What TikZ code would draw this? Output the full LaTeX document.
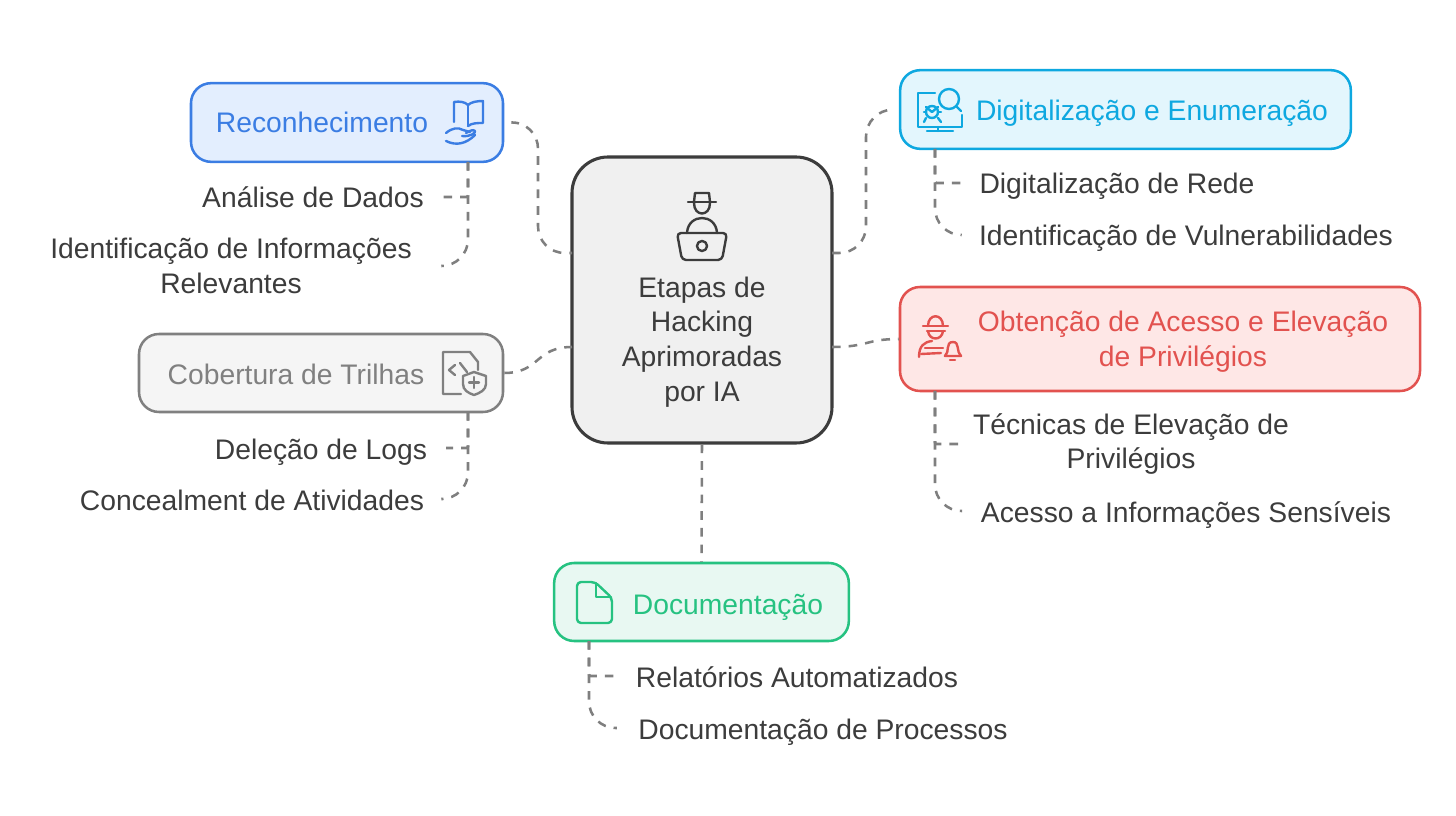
\documentclass[tikz,border=0pt]{standalone}
\usepackage{fontspec}
\setmainfont{Liberation Sans}
\usepackage{xcolor}
\usetikzlibrary{arrows.meta, positioning, calc}
\definecolor{inkdark}{HTML}{3C3C3C}
\definecolor{linkgray}{HTML}{7F7F7F}
\definecolor{hubbg}{HTML}{F0F0F0}
\definecolor{reconblue}{HTML}{3B7DE3}
\definecolor{reconbg}{HTML}{E3EEFE}
\definecolor{digitcyan}{HTML}{0EA8E0}
\definecolor{digitbg}{HTML}{E3F6FD}
\definecolor{obtred}{HTML}{E2524F}
\definecolor{obtbg}{HTML}{FEE7E6}
\definecolor{cobgray}{HTML}{808080}
\definecolor{cobbg}{HTML}{F5F5F5}
\definecolor{docgreen}{HTML}{26C281}
\definecolor{docbg}{HTML}{E8F8F2}

\begin{document}
\begin{tikzpicture}[
  x=0.75pt, y=-0.75pt,
  box/.style={draw, rounded corners=15pt, line width=1.9pt, inner sep=0pt},
  title/.style={font=\fontsize{21.2}{26}\selectfont, align=center, inner sep=0pt},
  item/.style={font=\fontsize{21.2}{26}\selectfont, align=center, text=inkdark,
    inner xsep=14pt, inner ysep=0pt},
  oneline/.style={text height=20pt, text depth=3.5pt},
  link/.style={draw=linkgray, line width=1.9pt, dash pattern=on 6.5pt off 6pt},
  elbow/.style={link, rounded corners=20pt},
  branch/.style={link, rounded corners=1pt},
  icon/.style={line width=1.8pt, line cap=round, line join=round}
]
  \useasboundingbox (0,0) rectangle (1456,816);

  % Central box
  \node[box, draw=inkdark, fill=hubbg, rounded corners=27pt, line width=2.3pt,
    minimum width=195pt, minimum height=214.5pt] (hub) at (702,300) {};
  \node[title, text=inkdark] (hubtext) at (702,342) {Etapas de\\Hacking\\Aprimoradas\\por IA};

  % Boxes
  \node[box, draw=reconblue, fill=reconbg, minimum width=234pt, minimum height=59pt] (recon) at (347,122.5) {};
  \node[box, draw=digitcyan, fill=digitbg, minimum width=338pt, minimum height=59pt] (digit) at (1125.5,109.5) {};
  \node[box, draw=obtred, fill=obtbg, minimum width=390pt, minimum height=78pt] (obt) at (1160,339) {};
  \node[box, draw=cobgray, fill=cobbg, minimum width=273pt, minimum height=58.5pt] (cob) at (321,373) {};
  \node[box, draw=docgreen, fill=docbg, minimum width=221pt, minimum height=58.5pt] (doc) at (701.5,602) {};

  % Box titles
  \node[title, oneline, text=reconblue] (recontext) at (322,122) {Reconhecimento};
  \node[title, oneline, text=digitcyan] (digittext) at (1152,110) {Digitalização e Enumeração};
  \node[title, text=obtred] (obttext) at (1183,342) {Obtenção de Acesso e Elevação\\de Privilégios};
  \node[title, oneline, text=cobgray] (cobtext) at (296,373) {Cobertura de Trilhas};
  \node[title, oneline, text=docgreen] (doctext) at (728,603) {Documentação};

  % Items
  \node[item, oneline] (dados) at (313,197) {Análise de Dados};
  \node[item, inner xsep=22.5pt] (relevantes) at (231,266) {Identificação de Informações\\Relevantes};
  \node[item, oneline] (logs) at (321,448) {Deleção de Logs};
  \node[item, oneline] (atividades) at (252,499) {Concealment de Atividades};
  \node[item, oneline] (rede) at (1117,183) {Digitalização de Rede};
  \node[item, oneline, inner xsep=13pt] (vulner) at (1186,235) {Identificação de Vulnerabilidades};
  \node[item, inner xsep=10.5pt] (tecnicas) at (1131,444) {Técnicas de Elevação de\\Privilégios};
  \node[item, oneline] (sensiveis) at (1186,511) {Acesso a Informações Sensíveis};
  \node[item, oneline, inner xsep=16pt] (relatorios) at (797,676) {Relatórios Automatizados};
  \node[item, oneline, inner xsep=16pt] (processos) at (823,728) {Documentação de Processos};

  % Connector ends
  \coordinate (hubnw) at (572,253);
  \coordinate (hubne) at (832,253);
  \coordinate (hubw) at (572,347);
  \coordinate (hube) at (832,347);
  \coordinate (reconstem) at (468,162);
  \coordinate (cobstem) at (468,412);
  \coordinate (digitstem) at (935,149);
  \coordinate (obtstem) at (935,391);
  \coordinate (docstem) at (589,641);

  % Connections to the central box
  \draw[elbow, shorten <=6pt] (recon.east) -- (538,122) -- (538,253) -- (hubnw);
  \draw[elbow, shorten >=3pt] (hubne) -- (866,253) -- (866,110) -- (digit.west);
  \draw[link] (hube) .. controls (868,347) and (866,339) .. (obt.west);
  \draw[link] (cob.east) .. controls (540,373) and (535,347) .. (hubw);
  \draw[link] (hub.south) -- (doc.north);

  % Connections to the items
  \draw[branch] (reconstem) |- (dados.east);
  \draw[elbow] (reconstem) |- (relevantes.east);
  \draw[branch] (cobstem) |- (logs.east);
  \draw[elbow] (cobstem) |- (atividades.east);
  \draw[branch] (digitstem) |- (rede.west);
  \draw[elbow] (digitstem) |- (vulner.west);
  \draw[branch] (obtstem) |- (tecnicas.west);
  \draw[elbow] (obtstem) |- (sensiveis.west);
  \draw[branch] (docstem) |- (relatorios.west);
  \draw[elbow] (docstem) |- (processos.west);

  % Hub icon
  \draw[icon, inkdark] (688,202) -- (716,202);
  \draw[icon, inkdark] (694,202) -- (695,193) -- (709,193) -- (710,202);
  \draw[icon, inkdark] (694,203) .. controls (694,217) and (710,217) .. (710,203);
  \draw[icon, inkdark] (687,233) .. controls (688,213) and (716,213) .. (717,233);
  \draw[icon, inkdark, rounded corners=3pt] (677,233) -- (727,233) -- (722,260) -- (682,260) -- cycle;
  \draw[icon, inkdark] (702,246) circle (3.8pt);

  % Book icon
  \draw[icon, reconblue] (454,122) -- (454,102) .. controls (460,101) and (465,102) .. (468,105)
    .. controls (471,102) and (477,101) .. (483,101) -- (483,123) .. controls (477,123) and (472,123) .. (468,126);
  \draw[icon, reconblue] (468,105) -- (468,126);
  \draw[icon, reconblue] (446,133) .. controls (452,128) and (458,127) .. (463,130) -- (470,132);
  \draw[icon, reconblue] (462,136) .. controls (470,137) and (476,133) .. (475,131)
    .. controls (473,129) and (470,131) .. (466,133);
  \draw[icon, reconblue] (446,141) .. controls (456,146) and (466,144) .. (475,135);

  % Bug icon
  \draw[icon, digitcyan] (935,93) -- (918,93) -- (918,127) -- (962,127) -- (962,115);
  \draw[icon, digitcyan] (938,127) -- (938,131);
  \draw[icon, digitcyan] (927,131) -- (953,131);
  \draw[icon, digitcyan] (949,99) circle (7.5pt);
  \draw[icon, digitcyan] (957,107) -- (961,111);
  \draw[icon, digitcyan] (932,112) circle (4.5pt);
  \draw[icon, digitcyan] (926,107) -- (932,112) -- (938,107);
  \foreach \ya/\yb in {112/112, 118/122} {
    \draw[icon, digitcyan] (926,\ya) -- (924,\yb);
    \draw[icon, digitcyan] (938,\ya) -- (941,\yb);
  }

  % Thief icon
  \draw[icon, obtred] (923,326) -- (948,326);
  \draw[icon, obtred] (928,326) .. controls (928,313) and (943,313) .. (943,326);
  \draw[icon, obtred] (927,331) -- (945,331);
  \draw[icon, obtred] (928,331) .. controls (929,341) and (942,341) .. (943,331);
  \draw[icon, obtred] (919,357) .. controls (919,346) and (924,342) .. (932,341);
  \draw[icon, obtred] (925,348) -- (943,348);
  \draw[icon, obtred] (921,354) -- (941,353);
  \draw[icon, obtred] (945,356) .. controls (950,352) and (945,342) .. (953,342)
    .. controls (960,342) and (956,352) .. (961,356) -- cycle;
  \draw[icon, obtred] (950,360) -- (955,360);

  % Shield icon
  \draw[icon, cobgray] (478,370) -- (478,362) -- (470,352) -- (443,352) -- (443,394) -- (461,394);
  \draw[icon, cobgray] (455,365) -- (449,370) -- (455,375);
  \draw[icon, cobgray] (460,363) -- (467,372);
  \draw[icon, cobgray] (474,372) -- (486,376) -- (486,384) .. controls (486,390) and (480,393) .. (474,395)
    .. controls (468,393) and (463,390) .. (463,384) -- (463,376) -- cycle;
  \draw[icon, cobgray] (474,377) -- (474,388);
  \draw[icon, cobgray] (469,382.5) -- (479,382.5);

  % Page icon
  \draw[icon, docgreen, rounded corners=3pt] (595,582) -- (577,582) -- (577,623) -- (612,623) -- (612,598) -- cycle;
  \draw[icon, docgreen] (596,583) -- (596,597) -- (611,597);
\end{tikzpicture}
\end{document}
